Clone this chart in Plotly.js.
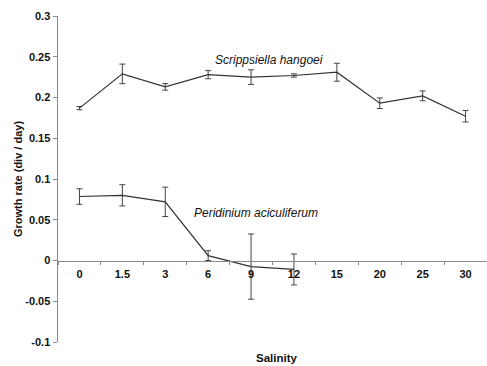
<!DOCTYPE html>
<html>
<head>
<meta charset="utf-8">
<script src="https://cdn.plot.ly/plotly-3.0.1.min.js"></script>
<style>html,body{margin:0;padding:0;background:#fff;}#chart{width:487px;height:366px;}</style>
</head>
<body>
<div id="chart"></div>
<script>
const salinity = ["0", "1.5", "3", "6", "9", "12", "15", "20", "25", "30"];
const scrippsiellaRate = [0.187, 0.229, 0.213, 0.228, 0.225, 0.227, 0.231, 0.193, 0.202, 0.177];
const scrippsiellaErr = [0.002, 0.012, 0.004, 0.005, 0.009, 0.002, 0.011, 0.0065, 0.006, 0.007];
const peridiniumSalinity = ["0", "1.5", "3", "6", "9", "12"];
const peridiniumRate = [0.0785, 0.080, 0.072, 0.006, -0.0075, -0.011];
const peridiniumErr = [0.0095, 0.013, 0.018, 0.006, 0.040, 0.019];
const yTicks = [0.3, 0.25, 0.2, 0.15, 0.1, 0.05, 0, -0.05, -0.1];

const font = "Liberation Sans, Arial, sans-serif";
const lineColor = "#333333";

const traces = [
  {
    x: salinity, y: scrippsiellaRate, type: "scatter", mode: "lines",
    name: "Scrippsiella hangoei",
    line: {color: lineColor, width: 1.2},
    error_y: {type: "data", array: scrippsiellaErr, visible: true, color: "#444", thickness: 1, width: 3}
  },
  {
    x: peridiniumSalinity, y: peridiniumRate, type: "scatter", mode: "lines",
    name: "Peridinium aciculiferum",
    line: {color: lineColor, width: 1.2},
    error_y: {type: "data", array: peridiniumErr, visible: true, color: "#444", thickness: 1, width: 3}
  }
];

const layout = {
  width: 487, height: 366,
  margin: {l: 58, r: 0, t: 16, b: 24},
  paper_bgcolor: "#fff", plot_bgcolor: "#fff",
  showlegend: false,
  font: {family: font, size: 11, color: "#111"},
  xaxis: {
    type: "category", categoryarray: salinity, categoryorder: "array",
    range: [-0.5, 9.5],
    anchor: "free", position: 0.25,
    showline: true, linecolor: "#8a8a8a", linewidth: 1.5,
    showgrid: false, zeroline: false,
    ticks: "outside", ticklen: 3, tickcolor: "#8a8a8a", tickson: "boundaries",
    tickfont: {family: font, size: 11, color: "#111", weight: "bold"},
    ticklabelstandoff: 3
  },
  yaxis: {
    range: [-0.1, 0.3],
    tickvals: yTicks, ticktext: yTicks.map(String),
    showline: true, linecolor: "#8a8a8a", linewidth: 1.5,
    showgrid: false, zeroline: false,
    ticks: "outside", ticklen: 4, tickcolor: "#8a8a8a",
    tickfont: {family: font, size: 11, color: "#111", weight: "bold"},
    title: {text: "Growth rate (div / day)", font: {family: font, size: 11, color: "#111", weight: "bold"}, standoff: 0}
  },
  annotations: [
    {text: "Scrippsiella hangoei", xref: "paper", yref: "paper", x: 0.492, y: 0.893,
     showarrow: false, font: {family: font, size: 12, color: "#111", style: "italic"}},
    {text: "Peridinium aciculiferum", xref: "paper", yref: "paper", x: 0.4615, y: 0.397,
     showarrow: false, font: {family: font, size: 12, color: "#111", style: "italic"}},
    {text: "Salinity", xref: "paper", yref: "paper", x: 0.5105, y: -0.049, yanchor: "middle",
     showarrow: false, font: {family: font, size: 11.5, color: "#111", weight: "bold"}}
  ]
};

Plotly.newPlot("chart", traces, layout, {displayModeBar: false, staticPlot: true});
</script>
</body>
</html>
